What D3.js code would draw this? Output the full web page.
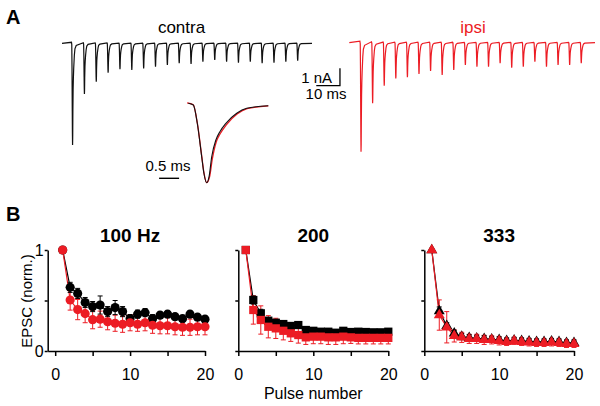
<!DOCTYPE html>
<html>
<head>
<meta charset="utf-8">
<script src="https://cdn.jsdelivr.net/npm/d3@7/dist/d3.min.js"></script>
<style>
body { margin: 0; background: #fff; }
text { font-family: "Liberation Sans", Arial, Helvetica, sans-serif; fill: #000; }
</style>
</head>
<body>
<script>
var w = 600;
var h = 406;
var red = "#ec1c24";

// panel A: peak amplitude of each EPSC in the trains (nA)
var contraAmps = [5.84, 2.91, 2.21, 1.69, 1.49, 1.53, 1.44, 1.34, 1.25, 1.15,
                  1.19, 1.06, 0.96, 1.06, 1.11, 1.06, 1.15, 1.11, 1.06, 1.0];
var ipsiAmps = [6.26, 3.48, 2.47, 2.05, 1.99, 1.80, 1.63, 1.86, 1.57, 1.28,
                1.38, 1.38, 1.18, 1.44, 1.38, 1.09, 1.38, 1.28, 1.28, 1.18];
// averaged EPSC from the inset: [time (ms), current normalised to peak]
var shapeContra = [[0, 0.01], [0.125, -0.013], [0.225, -0.245], [0.335, -0.67], [0.39, -0.88],
                   [0.46, -1.0], [0.52, -0.92], [0.585, -0.67], [0.69, -0.457], [0.79, -0.352],
                   [0.94, -0.245], [1.21, -0.118], [1.46, -0.055], [2.0, -0.022]];
var shapeIpsi = [[-0.03, 0.015], [0.125, -0.01], [0.225, -0.24], [0.335, -0.66], [0.39, -0.87],
                 [0.46, -1.0], [0.53, -0.93], [0.6, -0.7], [0.7, -0.48], [0.8, -0.375],
                 [0.95, -0.265], [1.22, -0.128], [1.47, -0.06], [2.0, -0.024]];

// panel B: normalised EPSC vs pulse number
var pulses = [1, 2, 3, 4, 5, 6, 7, 8, 9, 10, 11, 12, 13, 14, 15, 16, 17, 18, 19, 20];
var freqLabels = ["100 Hz", "200", "333"];

var contra100 = [1.0, 0.63, 0.57, 0.48, 0.44, 0.455, 0.39, 0.43, 0.39, 0.32,
                 0.365, 0.38, 0.32, 0.355, 0.365, 0.34, 0.32, 0.365, 0.335, 0.315];
var contra100Err = [0, 0.05, 0.05, 0.05, 0.05, 0.09, 0.05, 0.07, 0.05, 0.04,
                    0.04, 0.04, 0.04, 0.03, 0.03, 0.03, 0.03, 0.03, 0.03, 0.03];
var ipsi100 = [1.0, 0.505, 0.41, 0.37, 0.31, 0.315, 0.29, 0.275, 0.265, 0.28,
               0.265, 0.28, 0.255, 0.25, 0.25, 0.24, 0.235, 0.235, 0.24, 0.24];
var ipsi100Err = [0, 0.1, 0.1, 0.09, 0.09, 0.08, 0.08, 0.08, 0.08, 0.08,
                  0.07, 0.08, 0.08, 0.08, 0.08, 0.08, 0.08, 0.08, 0.08, 0.08];

var contra200 = [1.0, 0.505, 0.373, 0.3, 0.28, 0.267, 0.248, 0.257, 0.208, 0.2,
                 0.191, 0.191, 0.181, 0.2, 0.188, 0.191, 0.188, 0.185, 0.185, 0.191];
var contra200Err = [0, 0.04, 0.04, 0.03, 0.03, 0.03, 0.03, 0.03, 0.02, 0.02,
                    0.02, 0.02, 0.02, 0.02, 0.02, 0.02, 0.02, 0.02, 0.02, 0.02];
var ipsi200 = [1.0, 0.406, 0.307, 0.24, 0.224, 0.2, 0.175, 0.158, 0.135, 0.142,
               0.142, 0.135, 0.135, 0.142, 0.135, 0.13, 0.13, 0.13, 0.13, 0.13];
var ipsi200Err = [0, 0.14, 0.14, 0.11, 0.1, 0.09, 0.08, 0.08, 0.07, 0.07,
                  0.07, 0.07, 0.07, 0.07, 0.06, 0.06, 0.06, 0.06, 0.06, 0.06];

var contra333 = [1.0, 0.396, 0.25, 0.175, 0.142, 0.13, 0.125, 0.12, 0.115, 0.11,
                 0.1, 0.105, 0.1, 0.095, 0.09, 0.09, 0.095, 0.09, 0.08, 0.08];
var contra333Err = [0, 0.04, 0.03, 0.03, 0.03, 0.03, 0.03, 0.03, 0.03, 0.03,
                    0.03, 0.03, 0.03, 0.03, 0.03, 0.03, 0.03, 0.03, 0.03, 0.03];
var ipsi333 = [1.0, 0.356, 0.235, 0.149, 0.135, 0.12, 0.12, 0.11, 0.11, 0.1,
               0.09, 0.1, 0.09, 0.085, 0.08, 0.08, 0.085, 0.08, 0.07, 0.07];
var ipsi333Err = [0, 0.15, 0.155, 0.06, 0.05, 0.045, 0.045, 0.045, 0.04, 0.04,
                  0.035, 0.035, 0.035, 0.035, 0.035, 0.035, 0.035, 0.035, 0.035, 0.035];

var svg = d3.select("body")
    .append("svg")
    .attr("width", w)
    .attr("height", h);

// ---------- panel A ----------
svg.append("text").text("A")
    .attr("x", 6).attr("y", 24)
    .style("font-weight", "bold").style("font-size", "20px");

function trainPoints(amps, shape, onset, period, end) {
    var pts = [[0, 0]];
    amps.forEach(function(a, i) {
        var t0 = onset + i * period;
        shape.forEach(function(p) { pts.push([t0 + p[0], p[1] * a]); });
    });
    pts.push([end, 0]);
    return pts;
}

var contraX = d3.scaleLinear().domain([0, 105.5]).range([62, 312]);
var contraY = d3.scaleLinear().domain([0, -1]).range([43.3, 60.7]);
var ipsiX = d3.scaleLinear().domain([0, 106]).range([349.3, 595]);
var ipsiY = d3.scaleLinear().domain([0, -1]).range([42.7, 60.1]);

svg.append("path")
    .datum(trainPoints(contraAmps, shapeContra, 4.0, 5, 105.5))
    .attr("fill", "none").attr("stroke", "#111").attr("stroke-width", 1.2)
    .attr("d", d3.line().x(d => contraX(d[0])).y(d => contraY(d[1])));

svg.append("path")
    .datum(trainPoints(ipsiAmps, shapeIpsi, 4.6, 5, 106))
    .attr("fill", "none").attr("stroke", red).attr("stroke-width", 1.2)
    .attr("d", d3.line().x(d => ipsiX(d[0])).y(d => ipsiY(d[1])));

svg.append("text").text("contra")
    .attr("x", 181.5).attr("y", 33).attr("text-anchor", "middle")
    .style("font-size", "17px");
svg.append("text").text("ipsi")
    .attr("x", 473).attr("y", 33).attr("text-anchor", "middle")
    .style("font-size", "17px").style("fill", red);

// scale bar 1 nA / 10 ms
svg.append("path")
    .attr("fill", "none").attr("stroke", "#000").attr("stroke-width", 1.3)
    .attr("d", "M" + contraX(107.3) + "," + contraY(-2.43) +
               "H" + contraX(117.3) + "V" + contraY(-1.43));
svg.append("text").text("1 nA")
    .attr("x", 332).attr("y", 83).attr("text-anchor", "end")
    .style("font-size", "15px");
svg.append("text").text("10 ms")
    .attr("x", 326).attr("y", 99).attr("text-anchor", "middle")
    .style("font-size", "15px");

// inset: normalised first EPSCs overlaid
var insetX = d3.scaleLinear().domain([0, 2]).range([188.3, 268.3]);
var insetY = d3.scaleLinear().domain([0, -1]).range([104, 182.7]);
var insetLine = d3.line().curve(d3.curveMonotoneX)
    .x(d => insetX(d[0])).y(d => insetY(d[1]));

svg.append("path").datum(shapeIpsi)
    .attr("fill", "none").attr("stroke", red).attr("stroke-width", 1.3)
    .attr("d", insetLine);
svg.append("path").datum(shapeContra)
    .attr("fill", "none").attr("stroke", "#111").attr("stroke-width", 1.1)
    .attr("d", insetLine);

svg.append("line")
    .attr("x1", insetX(-0.73)).attr("x2", insetX(-0.23))
    .attr("y1", 178.3).attr("y2", 178.3)
    .attr("stroke", "#000").attr("stroke-width", 1.4);
svg.append("text").text("0.5 ms")
    .attr("x", 168).attr("y", 171).attr("text-anchor", "middle")
    .style("font-size", "15px");

// ---------- panel B ----------
svg.append("text").text("B")
    .attr("x", 6).attr("y", 221)
    .style("font-weight", "bold").style("font-size", "20px");

var panels = [
    {title: freqLabels[0], c: contra100, ce: contra100Err, i: ipsi100, ie: ipsi100Err,
     sym: d3.symbolCircle, size: 66, xmin: -1, left: 47.7, right: 205, labelY: true},
    {title: freqLabels[1], c: contra200, ce: contra200Err, i: ipsi200, ie: ipsi200Err,
     sym: d3.symbolSquare, size: 68, xmin: 0, left: 238.3, right: 388.3, labelY: false},
    {title: freqLabels[2], c: contra333, ce: contra333Err, i: ipsi333, ie: ipsi333Err,
     sym: d3.symbolTriangle, size: 52, xmin: 0, left: 424.3, right: 574, labelY: false}
];

var yScale = d3.scaleLinear().domain([0, 1]).range([351, 250]);

panels.forEach(function(p) {
    var xScale = d3.scaleLinear().domain([p.xmin, 20]).range([p.left, p.right]);
    var g = svg.append("g");

    var xAxis = d3.axisBottom(xScale)
        .tickValues([0, 5, 10, 15, 20])
        .tickSize(5).tickSizeOuter(0).tickPadding(13)
        .tickFormat(d => d % 10 === 0 ? d : "");
    var yAxis = d3.axisLeft(yScale)
        .tickValues([0, 0.5, 1])
        .tickSize(3).tickSizeOuter(0).tickPadding(1)
        .tickFormat(d => (p.labelY && d !== 0.5) ? d : "");

    [["x", xAxis, "translate(0,351)"], ["y", yAxis, "translate(" + p.left + ",0)"]].forEach(function(a) {
        var ax = g.append("g").attr("transform", a[2]).call(a[1]);
        ax.select(".domain").attr("stroke-width", 1.5);
        ax.selectAll(".tick line").attr("stroke-width", 1.5);
        ax.selectAll("text").style("font-size", "16px")
            .style("font-family", "'Liberation Sans', Arial, sans-serif");
    });

    g.append("text").text(p.title)
        .attr("x", (xScale(0) + xScale(20)) / 2).attr("y", 241.7)
        .attr("text-anchor", "middle")
        .style("font-weight", "bold").style("font-size", "19px");

    var series = [
        {v: p.c, e: p.ce, color: "#000"},
        {v: p.i, e: p.ie, color: red}
    ];

    // lines
    series.forEach(function(s) {
        g.append("path").datum(pulses)
            .attr("fill", "none").attr("stroke", s.color).attr("stroke-width", 1.2)
            .attr("d", d3.line().x(d => xScale(d)).y((d, k) => yScale(s.v[k])));
    });

    // error bars (red first, black over it)
    [series[1], series[0]].forEach(function(s) {
        var eb = g.append("g").attr("stroke", s.color).attr("stroke-width", 1);
        pulses.forEach(function(d, k) {
            if (!s.e[k]) return;
            var x = xScale(d), y1 = yScale(s.v[k] - s.e[k]), y2 = yScale(s.v[k] + s.e[k]);
            eb.append("path").attr("fill", "none")
                .attr("d", "M" + x + "," + y1 + "V" + y2 +
                           "M" + (x - 2.5) + "," + y1 + "H" + (x + 2.5) +
                           "M" + (x - 2.5) + "," + y2 + "H" + (x + 2.5));
        });
    });

    // markers
    series.forEach(function(s) {
        g.append("g").selectAll("path")
            .data(pulses)
            .enter()
            .append("path")
            .attr("d", d3.symbol().type(p.sym).size(p.size))
            .attr("fill", s.color)
            .attr("transform", (d, k) => "translate(" + xScale(d) + "," + yScale(s.v[k]) + ")");
    });
});

// axis titles
svg.append("text").text("Pulse number")
    .attr("x", 313.3).attr("y", 399).attr("text-anchor", "middle")
    .style("font-size", "16px");
svg.append("text").text("EPSC (norm.)")
    .attr("transform", "translate(32,301) rotate(-90)")
    .attr("text-anchor", "middle")
    .style("font-size", "15px");
</script>
</body>
</html>
